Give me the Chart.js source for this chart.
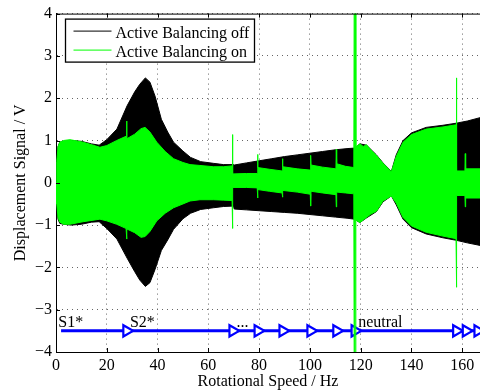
<!DOCTYPE html>
<html>
<head>
<meta charset="utf-8">
<script src="https://cdn.jsdelivr.net/npm/chart.js@4/dist/chart.umd.min.js"></script>
<style>
html, body { margin: 0; padding: 0; background: #fff; }
#wrap { width: 480px; height: 392px; }
</style>
</head>
<body>
<div id="wrap"><canvas id="chart"></canvas></div>
<script>
// envelope of the displacement signal (V) over rotational speed (Hz)
var offSpeed = [0, 0.3, 0.8, 1.5, 3, 6, 10, 14, 17, 20, 24, 28, 31, 33, 35.2, 37, 39, 41.5, 44, 46.3,
    50, 53, 57, 62, 66, 69.9, 70.2, 75, 80, 85, 90, 95, 100, 105, 110, 115, 117.5, 119.7, 122.3, 126.2,
    128.8, 132.1, 134, 136.7, 140, 145.8, 152.4, 157.7, 162, 167];
var offUpper = [0, 0.5, 0.86, 0.96, 0.98, 1.0, 0.98, 0.92, 0.89, 1.02, 1.27, 1.82, 2.15, 2.33, 2.48, 2.38, 2.05, 1.5, 1.2, 0.96,
    0.75, 0.6, 0.5, 0.46, 0.43, 0.43, 0.42, 0.47, 0.52, 0.57, 0.62, 0.66, 0.7, 0.74, 0.78, 0.81, 0.82, 0.92, 0.89, 0.66,
    0.47, 0.27, 0.66, 1.0, 1.18, 1.31, 1.36, 1.41, 1.46, 1.54];
var offLower = [0, -0.5, -0.86, -0.96, -0.98, -1.0, -0.98, -0.93, -0.92, -1.08, -1.33, -1.78, -2.1, -2.3, -2.45, -2.36, -2.05, -1.6, -1.35, -1.1,
    -0.85, -0.72, -0.63, -0.59, -0.56, -0.55, -0.62, -0.64, -0.66, -0.68, -0.7, -0.72, -0.75, -0.78, -0.81, -0.84, -0.86, -0.94, -0.83, -0.68,
    -0.45, -0.31, -0.52, -0.86, -1.06, -1.21, -1.3, -1.36, -1.42, -1.48];

var onSpeed = [0, 0.3, 0.8, 1.5, 3, 5.5, 10.7, 17.3, 20, 23.9, 27.6, 27.8, 27.95, 31, 33.5, 35.1, 37, 39.7, 43, 46.3,
    50, 52.8, 56.7, 62, 66, 69.35, 69.5, 69.65, 75, 79.25, 79.4, 79.55, 84, 89.05, 89.2, 89.35, 95, 100.15, 100.3, 100.45,
    105, 110.25, 110.4, 110.55, 114, 117.3, 117.45, 117.95, 118.1, 119.7, 121, 122.3, 124, 126.2, 128.8, 132.1, 134, 136.7, 140, 145.8,
    152.4, 157.55, 157.7, 157.85, 161.05, 161.2, 161.35, 167];
var onUpper = [0, 0.5, 0.85, 0.96, 1.0, 1.02, 0.96, 0.84, 0.88, 1.0, 1.1, 1.46, 1.04, 1.15, 1.28, 1.31, 1.2, 0.96, 0.74, 0.57,
    0.48, 0.43, 0.41, 0.38, 0.38, 0.4, 1.14, 0.21, 0.22, 0.22, 0.67, 0.36, 0.32, 0.28, 0.57, 0.38, 0.33, 0.3, 0.65, 0.42,
    0.37, 0.33, 0.79, 0.45, 0.39, 0.36, 4.5, 4.5, 0.85, 0.92, 0.86, 0.9, 0.78, 0.65, 0.46, 0.26, 0.62, 0.96, 1.14, 1.27,
    1.32, 1.37, 2.48, 0.28, 0.28, 0.69, 0.33, 0.33];
var onLower = [0, -0.5, -0.82, -0.93, -0.98, -0.98, -0.92, -0.86, -0.9, -0.98, -1.08, -1.33, -1.09, -1.18, -1.29, -1.27, -1.15, -0.9, -0.72, -0.59,
    -0.5, -0.43, -0.4, -0.4, -0.41, -0.42, -1.08, -0.11, -0.11, -0.12, -0.36, -0.16, -0.2, -0.24, -0.34, -0.18, -0.22, -0.27, -0.55, -0.2,
    -0.24, -0.28, -0.57, -0.22, -0.24, -0.26, -4.5, -4.5, -0.88, -0.94, -0.88, -0.82, -0.74, -0.67, -0.43, -0.31, -0.48, -0.82, -1.02, -1.17,
    -1.26, -1.32, -2.47, -0.3, -0.3, -0.57, -0.36, -0.36];

// balancing state sequence (switch points)
var switchStart = 2;
var switchEnd = 175;
var switchSpeed = [27.8, 69.6, 79.5, 89.3, 100.3, 110.5, 117.7, 157.7, 161.5, 166.1];
var switchLevel = -3.5;
var stateText = ['S1*', 'S2*', '...', 'neutral'];
var stateSpeed = [0.9, 29.1, 71.1, 119];
var stateLevel = -3.41;

var xTicks = [0, 20, 40, 60, 80, 100, 120, 140, 160];
var yTicks = [-4, -3, -2, -1, 0, 1, 2, 3, 4];

var serif = 'Liberation Serif, Times New Roman, serif';
Chart.defaults.font.family = serif;
Chart.defaults.font.size = 16;
Chart.defaults.color = '#000';

function pts(xs, ys) {
    return xs.map(function (x, i) { return { x: x, y: ys[i] }; });
}

var switchX = [switchStart].concat(switchSpeed, [switchEnd]);
var switchY = switchX.map(function () { return switchLevel; });

var framePlugin = {
    id: 'frame',
    afterDraw: function (chart) {
        var ctx = chart.ctx;
        var a = chart.chartArea;
        var xs = chart.scales.x;
        var ys = chart.scales.y;
        ctx.save();
        ctx.strokeStyle = '#000';
        ctx.lineWidth = 1;
        ctx.beginPath();
        xTicks.forEach(function (v) {
            var px = Math.round(xs.getPixelForValue(v)) + 0.5;
            ctx.moveTo(px, a.bottom);
            ctx.lineTo(px, a.bottom - 4);
            ctx.moveTo(px, a.top);
            ctx.lineTo(px, a.top + 4);
        });
        yTicks.forEach(function (v) {
            var py = Math.round(ys.getPixelForValue(v)) + 0.5;
            ctx.moveTo(a.left, py);
            ctx.lineTo(a.left + 4, py);
        });
        ctx.stroke();
        ctx.beginPath();
        ctx.moveTo(a.left, a.top + 0.5);
        ctx.lineTo(a.right, a.top + 0.5);
        ctx.stroke();

        // state labels above the switch line
        ctx.fillStyle = '#000';
        ctx.font = '16px ' + serif;
        ctx.textBaseline = 'alphabetic';
        ctx.textAlign = 'left';
        stateText.forEach(function (t, i) {
            ctx.fillText(t, xs.getPixelForValue(stateSpeed[i]), ys.getPixelForValue(stateLevel));
        });

        // legend box
        var lx = a.left + 9.5, ly = a.top + 5.5, lw = 189, lh = 43;
        ctx.fillStyle = '#fff';
        ctx.fillRect(lx, ly, lw, lh);
        ctx.lineWidth = 1.3;
        ctx.strokeRect(lx, ly, lw, lh);
        var items = [chart.data.datasets[3], chart.data.datasets[0]];
        items.forEach(function (ds, i) {
            var y = ly + 12 + i * 19;
            ctx.strokeStyle = ds.borderColor;
            ctx.lineWidth = 1;
            ctx.beginPath();
            ctx.moveTo(lx + 8, y);
            ctx.lineTo(lx + 46, y);
            ctx.stroke();
            ctx.fillStyle = '#000';
            ctx.fillText(ds.label, lx + 50, y + 7);
        });
        ctx.restore();
    }
};

function minus(v) {
    return v < 0 ? '\u2212' + Math.abs(v) : String(v);
}

new Chart(document.getElementById('chart'), {
    type: 'line',
    data: {
        datasets: [
            { label: 'Active Balancing on', data: pts(onSpeed, onUpper), borderColor: '#00ff00', backgroundColor: '#00ff00', fill: '+1', order: 1 },
            { label: 'on lower', data: pts(onSpeed, onLower), borderColor: '#00ff00', fill: false, order: 1 },
            {
                label: 'switch', data: pts(switchX, switchY), borderColor: '#0000ff', borderWidth: 3, fill: false, order: 2,
                pointStyle: 'triangle', rotation: 90, pointBorderWidth: 2.2, pointBorderColor: '#0000ff', pointBackgroundColor: '#fff',
                pointRadius: function (c) { return c.dataIndex > 0 && c.dataIndex <= switchSpeed.length ? 6.5 : 0; }
            },
            { label: 'Active Balancing off', data: pts(offSpeed, offUpper), borderColor: '#000', backgroundColor: '#000', fill: '+1', order: 3 },
            { label: 'off lower', data: pts(offSpeed, offLower), borderColor: '#000', fill: false, order: 3 }
        ]
    },
    options: {
        responsive: true,
        maintainAspectRatio: false,
        animation: false,
        layout: { padding: { top: 12, right: 0, bottom: 0, left: 0 } },
        plugins: { legend: { display: false }, tooltip: { enabled: false } },
        elements: { point: { radius: 0 }, line: { tension: 0, borderWidth: 1 } },
        scales: {
            x: {
                type: 'linear', min: 0, max: 167,
                afterBuildTicks: function (s) { s.ticks = xTicks.map(function (v) { return { value: v }; }); },
                afterFit: function (s) { s.height = 40; },
                grid: { color: '#666', drawTicks: false },
                border: { color: '#000', width: 1, dash: [1, 4] },
                ticks: { padding: 4, maxRotation: 0, color: '#000' },
                title: { display: true, text: 'Rotational Speed / Hz', color: '#000', padding: { top: 0, bottom: 1 } }
            },
            y: {
                type: 'linear', min: -4, max: 4,
                afterBuildTicks: function (s) { s.ticks = yTicks.map(function (v) { return { value: v }; }); },
                afterFit: function (s) { s.width = 56; },
                grid: { color: '#666', drawTicks: false },
                border: { color: '#000', width: 1, dash: [1, 4] },
                ticks: { padding: 4, color: '#000', callback: function (v) { return minus(v); } },
                title: { display: true, text: 'Displacement Signal / V', color: '#000', padding: { top: 11, bottom: 0 } }
            }
        }
    },
    plugins: [framePlugin]
});
</script>
</body>
</html>
